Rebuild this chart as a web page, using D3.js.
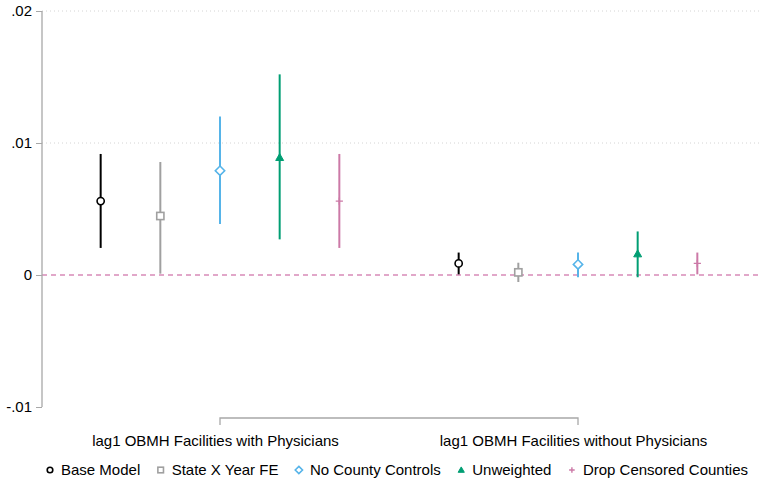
<!DOCTYPE html>
<html>
<head>
<meta charset="utf-8">
<script src="https://cdn.jsdelivr.net/npm/d3@7"></script>
<style>
  body { margin: 0; background: #fff; }
  text { font-family: "Liberation Sans", Arial, Helvetica, sans-serif; }
</style>
</head>
<body>
<div id="chart_area"></div>
<script>
// data
var groups = ["lag1 OBMH Facilities with Physicians", "lag1 OBMH Facilities without Physicians"];
var models = ["Base Model", "State X Year FE", "No County Controls", "Unweighted", "Drop Censored Counties"];
var modelColors = ["#000000", "#a0a0a0", "#56b4e9", "#009e73", "#cc79a7"];
var modelShapes = ["circle", "square", "diamond", "triangle", "plus"];
// point estimates per model, [group1, group2]
var estBase = [0.0056, 0.00088];
var estState = [0.00447, 0.0002];
var estNoCounty = [0.0079, 0.0008];
var estUnweighted = [0.0089, 0.0016];
var estDrop = [0.0056, 0.00088];
// confidence intervals per model, [[lo, hi] group1, [lo, hi] group2]
var ciBase = [[0.00205, 0.00917], [0.00005, 0.0017]];
var ciState = [[0.0001, 0.00856], [-0.00053, 0.00093]];
var ciNoCounty = [[0.00386, 0.0120], [-0.00017, 0.0017]];
var ciUnweighted = [[0.0027, 0.0152], [-0.00017, 0.0033]];
var ciDrop = [[0.00205, 0.00917], [0.00005, 0.0017]];
var yTicks = [-0.01, 0, 0.01, 0.02];
var yTickLabels = ["-.01", "0", ".01", ".02"];

var estimates = [estBase, estState, estNoCounty, estUnweighted, estDrop];
var intervals = [ciBase, ciState, ciNoCounty, ciUnweighted, ciDrop];
var offsets = [-1/3, -1/6, 0, 1/6, 1/3];

var rows = [];
models.forEach(function(m, i){
	groups.forEach(function(g, j){
		rows.push({model: i, group: j, est: estimates[i][j], lo: intervals[i][j][0], hi: intervals[i][j][1]});
	});
});

var sFrameWidth = 759;
var sFrameHeight = 481;
var sFont = 15;

var sFrame = d3.select("#chart_area").append("svg")
	.attr("width", sFrameWidth)
	.attr("height", sFrameHeight);

//scales
var x = d3.scaleLinear().domain([1, 2]).range([220, 578]);
var y = d3.scaleLinear().domain([-0.01, 0.02]).range([407, 11]);
var axisX = 42;

//grid lines
sFrame.append("g").selectAll("line")
	.data([0.01, 0.02])
	.enter().append("line")
	.attr("x1", axisX).attr("x2", sFrameWidth)
	.attr("y1", function(d){ return y(d); })
	.attr("y2", function(d){ return y(d); })
	.attr("stroke", "#d4d4d4")
	.attr("stroke-width", 1)
	.attr("stroke-dasharray", "1,3");

//zero line
sFrame.append("line")
	.attr("x1", axisX).attr("x2", sFrameWidth)
	.attr("y1", y(0)).attr("y2", y(0))
	.attr("stroke", "#d88bb8")
	.attr("stroke-width", 1.3)
	.attr("stroke-dasharray", "5,4");

//y axis
var yAxis = d3.axisLeft(y)
	.tickValues(yTicks)
	.tickFormat(function(d, i){ return yTickLabels[i]; })
	.tickSize(6)
	.tickPadding(4);
var gY = sFrame.append("g").attr("transform", "translate(" + axisX + ",0)").call(yAxis);
gY.select(".domain").attr("stroke", "#a8a8a8").attr("stroke-width", 1.3).attr("d", "M0," + y(0.02) + "V" + y(-0.01));
gY.selectAll(".tick line").attr("stroke", "#a8a8a8").attr("stroke-width", 1);
gY.selectAll(".tick text").attr("font-size", sFont).attr("fill", "#000");

//x axis
var xAxis = d3.axisBottom(x)
	.tickValues([1, 2])
	.tickFormat(function(d){ return groups[d - 1]; })
	.tickSizeOuter(0)
	.tickSizeInner(-7)
	.tickPadding(10);
var gX = sFrame.append("g").attr("transform", "translate(0,425)").call(xAxis);
gX.select(".domain").attr("stroke", "#a8a8a8").attr("stroke-width", 1.3)
	.attr("d", "M" + x(1) + ",0V-7H" + x(2) + "V0");
gX.selectAll(".tick line").remove();
gX.selectAll(".tick text").attr("font-size", sFont).attr("fill", "#000").attr("dx", -5);

//marker drawing
function drawMarker(sel, shape, color, s){
	if (shape === "circle") {
		sel.append("circle").attr("r", s).attr("fill", "#fff").attr("stroke", color).attr("stroke-width", 1.6);
	} else if (shape === "square") {
		sel.append("rect").attr("x", -s).attr("y", -s).attr("width", 2*s).attr("height", 2*s)
			.attr("fill", "#fff").attr("stroke", color).attr("stroke-width", 1.6);
	} else if (shape === "diamond") {
		var d = s * 1.3;
		sel.append("path").attr("d", "M0," + (-d) + "L" + d + ",0L0," + d + "L" + (-d) + ",0Z")
			.attr("fill", "#fff").attr("stroke", color).attr("stroke-width", 1.6);
	} else if (shape === "triangle") {
		var t = s * 1.1;
		sel.append("path").attr("d", "M0," + (-t) + "L" + t + "," + (t*0.75) + "L" + (-t) + "," + (t*0.75) + "Z")
			.attr("fill", color).attr("stroke", color).attr("stroke-width", 1);
	} else {
		sel.append("path").attr("d", "M" + (-s) + ",0H" + s + "M0," + (-s) + "V" + s)
			.attr("stroke", color).attr("stroke-width", 1.4);
	}
}

//confidence intervals
var sPlot = sFrame.append("g");
sPlot.selectAll("line.ci")
	.data(rows)
	.enter().append("line")
	.attr("class", "ci")
	.attr("x1", function(d){ return x(d.group + 1 + offsets[d.model]); })
	.attr("x2", function(d){ return x(d.group + 1 + offsets[d.model]); })
	.attr("y1", function(d){ return y(d.lo); })
	.attr("y2", function(d){ return y(d.hi); })
	.attr("stroke", function(d){ return modelColors[d.model]; })
	.attr("stroke-width", 2);

//point estimates
sPlot.selectAll("g.pt")
	.data(rows)
	.enter().append("g")
	.attr("class", "pt")
	.attr("transform", function(d){ return "translate(" + x(d.group + 1 + offsets[d.model]) + "," + y(d.est) + ")"; })
	.each(function(d){ drawMarker(d3.select(this), modelShapes[d.model], modelColors[d.model], 3.6); });

//legend: lay items out from first symbol to right end with even gaps
var legStart = 50, legEnd = 748, symGap = 11;
var sLegend = sFrame.append("g").attr("transform", "translate(0,470)");
var items = models.map(function(m, i){
	var item = sLegend.append("g");
	drawMarker(item.append("g"), modelShapes[i], modelColors[i], 2.8);
	var t = item.append("text").attr("x", symGap).attr("y", 5).attr("font-size", sFont).attr("fill", "#000").text(m);
	return {g: item, w: symGap + t.node().getComputedTextLength()};
});
var totalW = d3.sum(items, function(d){ return d.w; });
var gap = (legEnd - legStart - totalW) / (items.length - 1);
var pos = legStart;
items.forEach(function(d){
	d.g.attr("transform", "translate(" + pos + ",0)");
	pos += d.w + gap;
});
</script>
</body>
</html>
